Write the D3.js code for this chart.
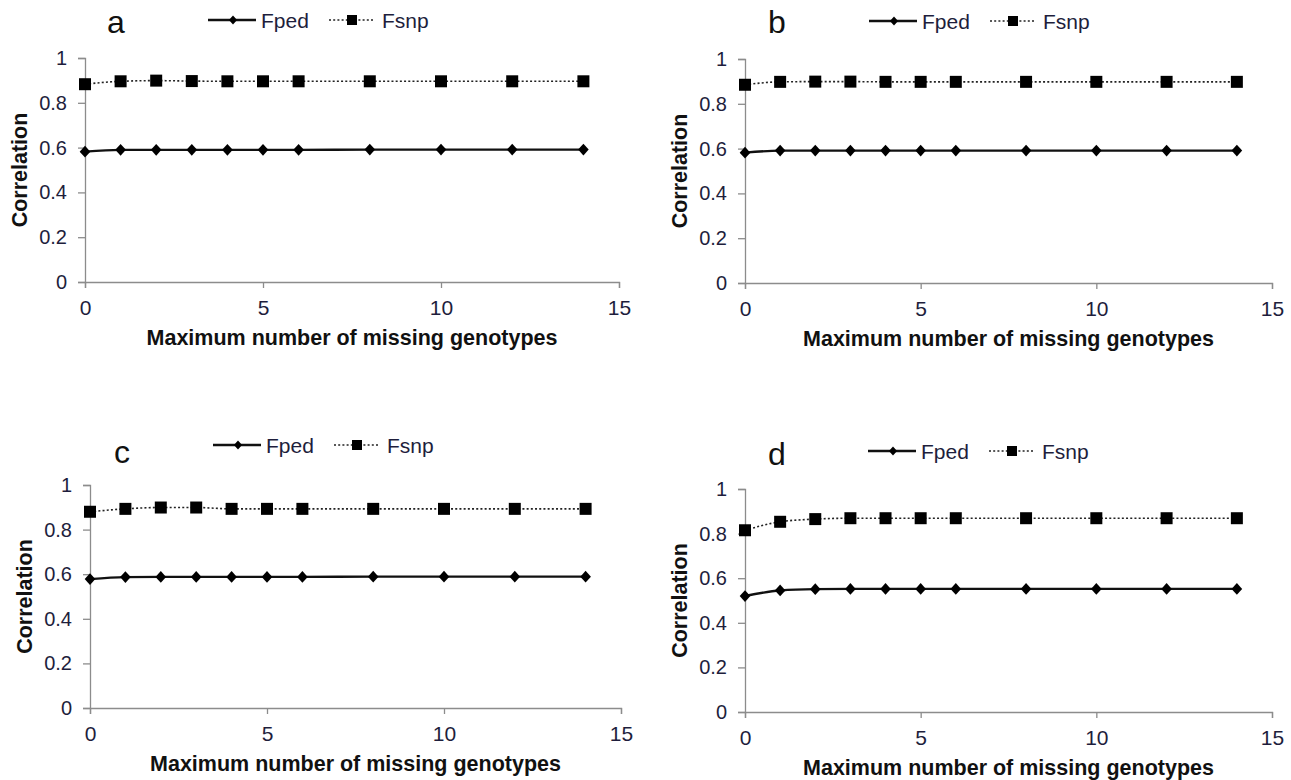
<!DOCTYPE html>
<html>
<head>
<meta charset="utf-8">
<script src="https://cdn.jsdelivr.net/npm/d3@7"></script>
<style>
  body { margin: 0; background: #fff; }
  svg { display: block; font-family: "Liberation Sans", Arial, sans-serif; }
  .axis path, .axis line { stroke: #8c8c8c; stroke-width: 1.3; }
  .axis text { fill: #1e1e3c; }
</style>
</head>
<body>
<div id="chart"></div>
<script>
// data
var xValues = [0, 1, 2, 3, 4, 5, 6, 8, 10, 12, 14];
var fpedA = [0.582, 0.590, 0.590, 0.590, 0.590, 0.590, 0.590, 0.591, 0.591, 0.591, 0.591];
var fsnpA = [0.883, 0.896, 0.899, 0.897, 0.896, 0.896, 0.896, 0.896, 0.896, 0.896, 0.896];
var fpedB = [0.582, 0.591, 0.591, 0.591, 0.591, 0.591, 0.591, 0.591, 0.591, 0.591, 0.591];
var fsnpB = [0.885, 0.898, 0.899, 0.899, 0.898, 0.898, 0.898, 0.898, 0.898, 0.898, 0.898];
var fpedC = [0.578, 0.587, 0.588, 0.588, 0.588, 0.588, 0.588, 0.589, 0.589, 0.589, 0.589];
var fsnpC = [0.880, 0.893, 0.899, 0.899, 0.893, 0.893, 0.893, 0.893, 0.893, 0.893, 0.893];
var fpedD = [0.520, 0.545, 0.551, 0.552, 0.552, 0.552, 0.552, 0.552, 0.552, 0.552, 0.552];
var fsnpD = [0.815, 0.853, 0.865, 0.869, 0.869, 0.869, 0.869, 0.869, 0.869, 0.869, 0.869];
var panelLabels = ["a", "b", "c", "d"];
var seriesNames = ["Fped", "Fsnp"];
var xTickValues = [0, 5, 10, 15];
var yTickValues = [0, 0.2, 0.4, 0.6, 0.8, 1];
var xTitle = "Maximum number of missing genotypes";
var yTitle = "Correlation";

var svg = d3.select("#chart").append("svg")
    .attr("width", 1291)
    .attr("height", 780);

svg.append("rect").attr("width", 1291).attr("height", 780).attr("fill", "#fff");

// pixel layout of each panel
var panels = [
  {fped: fpedA, fsnp: fsnpA, x0: 85,  x1: 619,  y0: 282, y1: 58,  lab: [116, 33],  leg: [208, 20]},
  {fped: fpedB, fsnp: fsnpB, x0: 745, x1: 1272, y0: 283, y1: 59,  lab: [777, 33],  leg: [869, 21]},
  {fped: fpedC, fsnp: fsnpC, x0: 90,  x1: 621,  y0: 708, y1: 485, lab: [122, 463], leg: [213, 445]},
  {fped: fpedD, fsnp: fsnpD, x0: 745, x1: 1272, y0: 712, y1: 489, lab: [777, 465], leg: [868, 451]}
];

var diamond = d3.symbol().type(d3.symbolDiamond2);
var square = d3.symbol().type(d3.symbolSquare);

panels.forEach(function(p, i) {
  var g = svg.append("g");

  var xScale = d3.scaleLinear().domain([0, 15]).range([p.x0, p.x1]);
  var yScale = d3.scaleLinear().domain([0, 1]).range([p.y0, p.y1]);

  var xAxis = d3.axisBottom(xScale).tickValues(xTickValues).tickSize(6).tickSizeOuter(6).tickPadding(12);
  var yAxis = d3.axisLeft(yScale).tickValues(yTickValues).tickSize(7).tickSizeOuter(7).tickPadding(11)
      .tickFormat(function(d) { return d3.format("")(+d.toFixed(1)); });

  g.append("g").attr("class", "x axis")
    .attr("transform", "translate(0," + p.y0 + ")")
    .call(xAxis)
    .selectAll("text").style("font-size", "21px");

  g.append("g").attr("class", "y axis")
    .attr("transform", "translate(" + p.x0 + ",0)")
    .call(yAxis)
    .selectAll("text").style("font-size", "20px");

  // titles
  g.append("text")
    .attr("x", (p.x0 + p.x1) / 2)
    .attr("y", p.y0 + 63)
    .attr("text-anchor", "middle")
    .style("font-size", "21.5px").style("font-weight", "bold").attr("fill", "#111")
    .text(xTitle);

  g.append("text")
    .attr("transform", "translate(" + (p.x0 - 58) + "," + ((p.y0 + p.y1) / 2) + ") rotate(-90)")
    .attr("text-anchor", "middle")
    .style("font-size", "21.5px").style("font-weight", "bold").attr("fill", "#111")
    .text(yTitle);

  g.append("text")
    .attr("x", p.lab[0]).attr("y", p.lab[1])
    .attr("text-anchor", "middle")
    .style("font-size", "32px").attr("fill", "#111")
    .text(panelLabels[i]);

  // series lines
  var line = d3.line()
    .x(function(d, j) { return xScale(xValues[j]); })
    .y(function(d) { return yScale(d); })
    .curve(d3.curveMonotoneX);

  g.append("path").datum(p.fsnp)
    .attr("d", line).attr("fill", "none")
    .attr("stroke", "#222").attr("stroke-width", 1.6).attr("stroke-dasharray", "2,2.2");

  g.append("path").datum(p.fped)
    .attr("d", line).attr("fill", "none")
    .attr("stroke", "#111").attr("stroke-width", 2.4);

  g.selectAll(".sq").data(p.fsnp).enter().append("path")
    .attr("class", "sq")
    .attr("transform", function(d, j) { return "translate(" + xScale(xValues[j]) + "," + yScale(d) + ")"; })
    .attr("d", square.size(144)).attr("fill", "#000");

  g.selectAll(".dm").data(p.fped).enter().append("path")
    .attr("class", "dm")
    .attr("transform", function(d, j) { return "translate(" + xScale(xValues[j]) + "," + yScale(d) + ") scale(1,1.1)"; })
    .attr("d", diamond.size(72)).attr("fill", "#000");

  // legend
  var lx = p.leg[0], ly = p.leg[1];
  g.append("line").attr("x1", lx).attr("x2", lx + 48).attr("y1", ly).attr("y2", ly)
    .attr("stroke", "#111").attr("stroke-width", 2.4);
  g.append("path").attr("transform", "translate(" + (lx + 25) + "," + ly + ") scale(1,1.1)")
    .attr("d", diamond.size(42)).attr("fill", "#000");
  g.append("text").attr("x", lx + 53).attr("y", ly).attr("dy", "0.36em")
    .style("font-size", "21px").attr("fill", "#1e1e3c").text(seriesNames[0]);

  g.append("line").attr("x1", lx + 121).attr("x2", lx + 167).attr("y1", ly).attr("y2", ly)
    .attr("stroke", "#222").attr("stroke-width", 1.6).attr("stroke-dasharray", "2,2.2");
  g.append("path").attr("transform", "translate(" + (lx + 144) + "," + ly + ")")
    .attr("d", square.size(100)).attr("fill", "#000");
  g.append("text").attr("x", lx + 174).attr("y", ly).attr("dy", "0.36em")
    .style("font-size", "21px").attr("fill", "#1e1e3c").text(seriesNames[1]);
});
</script>
</body>
</html>
